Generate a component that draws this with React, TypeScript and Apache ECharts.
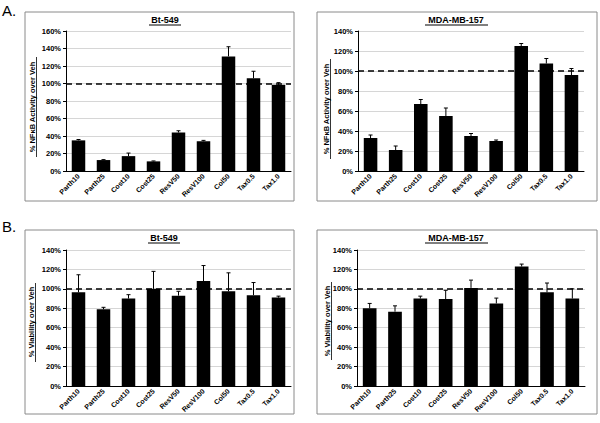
import React, { useEffect, useRef } from "react";
import * as echarts from "echarts";

const categories = ["Parth10", "Parth25", "Cost10", "Cost25", "ResV50", "ResV100", "Col50", "Tax0.5", "Tax1.0"];

const nfkbBt549 = [35, 12.5, 17, 11, 44, 34, 131, 106, 98.5];
const nfkbBt549Err = [1, 0.5, 3.5, 0.5, 2, 1, 11, 8, 2.5];
const nfkbMda157 = [33, 21, 67, 55, 35, 30, 125, 107.5, 96];
const nfkbMda157Err = [3, 4, 4.5, 8, 2.5, 1, 2.5, 5, 6.5];
const viabBt549 = [96.5, 79, 90, 100, 93, 108, 97.5, 93.5, 91];
const viabBt549Err = [18, 2, 4, 18, 4.5, 16, 19, 13, 1.5];
const viabMda157 = [80, 76.5, 90, 89.5, 101, 85, 123, 96.5, 90];
const viabMda157Err = [5, 6, 2.5, 9, 8, 5.5, 2.5, 9.5, 10];

const panelTitles = ["Bt-549", "MDA-MB-157", "Bt-549", "MDA-MB-157"];
const yNames = ["% NFκB Activity over Veh", "% NFκB Activity over Veh", "% Viability over Veh", "% Viability over Veh"];
const yMaxes = [160, 140, 140, 140];
const referenceLevel = 100;

const FONT = "'Liberation Sans', Arial, sans-serif";

export default function App() {
  const ref = useRef<HTMLDivElement>(null);
  useEffect(() => {
    document.body.style.margin = "0";
    const chart = echarts.init(ref.current!, null, { renderer: "svg" });
    const values = [nfkbBt549, nfkbMda157, viabBt549, viabMda157];
    const errs = [nfkbBt549Err, nfkbMda157Err, viabBt549Err, viabMda157Err];
    const grids = [
      { left: 66, right: 309, top: 31, bottom: 252 },
      { left: 358, right: 16, top: 31, bottom: 252 },
      { left: 66, right: 309, top: 250, bottom: 37 },
      { left: 357, right: 15, top: 250, bottom: 37 },
    ];
    const xAxis = grids.map((_, i) => ({
      type: "category",
      gridIndex: i,
      data: categories,
      axisLine: { lineStyle: { color: "#000", width: 1 } },
      axisTick: { show: false },
      axisLabel: {
        rotate: 45,
        fontSize: 7,
        fontWeight: "bold",
        color: "#000",
        fontFamily: FONT,
        margin: 4,
        interval: 0,
      },
    }));
    const yAxis = grids.map((_, i) => ({
      type: "value",
      gridIndex: i,
      min: 0,
      max: yMaxes[i],
      interval: 20,
      axisLine: { show: true, lineStyle: { color: "#000", width: 1 } },
      axisTick: { show: true, length: 3, lineStyle: { color: "#000" } },
      axisLabel: {
        formatter: "{value}%",
        fontSize: 7.5,
        fontWeight: "bold",
        color: "#000",
        fontFamily: FONT,
        margin: 5,
      },
      splitLine: { show: true, lineStyle: { color: "#d6d6d6", width: 1 } },
    }));
    const series: any[] = [];
    values.forEach((vals, i) => {
      series.push({
        type: "bar",
        xAxisIndex: i,
        yAxisIndex: i,
        data: vals,
        barWidth: "54%",
        itemStyle: { color: "#000" },
        markLine: {
          silent: true,
          symbol: "none",
          label: { show: false },
          lineStyle: { color: "#000", type: [6, 4], width: 1.5 },
          data: [{ yAxis: referenceLevel }],
        },
      });
      series.push({
        type: "custom",
        xAxisIndex: i,
        yAxisIndex: i,
        z: 5,
        data: vals.map((v, k) => [k, v, errs[i][k]]),
        renderItem: (params: any, api: any) => {
          const x = api.value(0);
          const v = api.value(1);
          const e = api.value(2);
          const base = api.coord([x, v]);
          const top = api.coord([x, v + e]);
          const hw = 2;
          return {
            type: "group",
            children: [
              { type: "line", shape: { x1: base[0], y1: base[1], x2: top[0], y2: top[1] }, style: { stroke: "#000", lineWidth: 1 } },
              { type: "line", shape: { x1: top[0] - hw, y1: top[1], x2: top[0] + hw, y2: top[1] }, style: { stroke: "#000", lineWidth: 1 } },
            ],
          };
        },
      });
    });

    const titleCenters = [
      { x: 165, y: 15 },
      { x: 456, y: 15 },
      { x: 164, y: 233 },
      { x: 456, y: 233 },
    ];
    const titleUnderlines = [
      { x1: 149, x2: 181, y: 25 },
      { x1: 425, x2: 488, y: 25 },
      { x1: 148, x2: 180, y: 243 },
      { x1: 425, x2: 488, y: 243 },
    ];
    const nameTexts = [
      { x: 32, y: 107, ux: 36.5, uy1: 57, uy2: 157 },
      { x: 326, y: 109, ux: 330.5, uy1: 59, uy2: 159 },
      { x: 31, y: 322, ux: 35.5, uy1: 283, uy2: 362 },
      { x: 327, y: 321, ux: 331.5, uy1: 282, uy2: 360 },
    ];

    const graphic: any[] = [
      { type: "rect", shape: { x: 25, y: 12, width: 269, height: 189 }, style: { fill: "none", stroke: "#8a8a8a", lineWidth: 1 } },
      { type: "rect", shape: { x: 317, y: 12, width: 280, height: 189 }, style: { fill: "none", stroke: "#8a8a8a", lineWidth: 1 } },
      { type: "rect", shape: { x: 25, y: 230, width: 269, height: 184 }, style: { fill: "none", stroke: "#8a8a8a", lineWidth: 1 } },
      { type: "rect", shape: { x: 317, y: 230, width: 280, height: 184 }, style: { fill: "none", stroke: "#8a8a8a", lineWidth: 1 } },
      { type: "text", x: 2, y: 3, style: { text: "A.", fontSize: 15, fill: "#000", fontFamily: FONT } },
      { type: "text", x: 2, y: 219, style: { text: "B.", fontSize: 15, fill: "#000", fontFamily: FONT } },
    ];
    titleUnderlines.forEach((u) => {
      graphic.push({ type: "line", shape: { x1: u.x1, y1: u.y, x2: u.x2, y2: u.y }, style: { stroke: "#000", lineWidth: 1 } });
    });
    nameTexts.forEach((n, i) => {
      graphic.push({
        type: "text",
        x: n.x,
        y: n.y,
        rotation: Math.PI / 2,
        style: {
          text: yNames[i],
          fontSize: 7.5,
          fontWeight: "bold",
          fill: "#000",
          fontFamily: FONT,
          align: "center",
          verticalAlign: "middle",
        },
      });
      graphic.push({ type: "line", shape: { x1: n.ux, y1: n.uy1, x2: n.ux, y2: n.uy2 }, style: { stroke: "#000", lineWidth: 0.8 } });
    });

    chart.setOption({
      animation: false,
      backgroundColor: "#fff",
      title: panelTitles.map((t, i) => ({
        text: t,
        left: titleCenters[i].x,
        top: titleCenters[i].y,
        textAlign: "center",
        padding: 0,
        textStyle: { fontSize: 9, fontWeight: "bold", color: "#000", fontFamily: FONT },
      })),
      grid: grids,
      xAxis,
      yAxis,
      series,
      graphic,
    });
    return () => chart.dispose();
  }, []);
  return <div ref={ref} style={{ width: 600, height: 423, position: "fixed", left: 0, top: 0 }} />;
}
